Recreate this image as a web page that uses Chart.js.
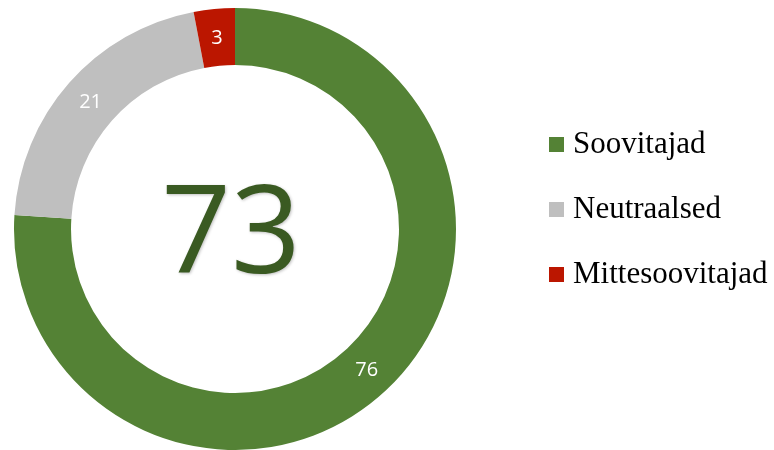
<!DOCTYPE html>
<html>
<head>
<meta charset="utf-8">
<script src="https://cdn.jsdelivr.net/npm/chart.js@4/dist/chart.umd.min.js"></script>
<style>
  html, body { margin: 0; padding: 0; background: #ffffff; }
  #wrap { position: relative; width: 774px; height: 450px; }
  #chart { position: absolute; left: 0; top: 0; }
  #legend { position: absolute; left: 549px; top: 121px; font-family: "Liberation Serif", "Times New Roman", serif; font-size: 31px; color: #000; }
  .item { display: flex; align-items: center; height: 44px; margin-bottom: 21px; }
  .box { width: 15px; height: 15px; margin-right: 9px; margin-top: 3px; }
</style>
</head>
<body>
<div id="wrap">
  <canvas id="chart" width="774" height="450"></canvas>
  <div id="legend"></div>
</div>
<script>
const categories = ["Soovitajad", "Neutraalsed", "Mittesoovitajad"];
const values = [76, 21, 3];
const colors = ["#548235", "#bfbfbf", "#bb1600"];
const centerValue = "73";

// HTML legend built from data
const legendEl = document.getElementById("legend");
categories.forEach((c, i) => {
  const item = document.createElement("div");
  item.className = "item";
  const box = document.createElement("span");
  box.className = "box";
  box.style.background = colors[i];
  const txt = document.createElement("span");
  txt.textContent = c;
  item.appendChild(box);
  item.appendChild(txt);
  legendEl.appendChild(item);
});

const labelsPlugin = {
  id: "arcLabels",
  afterDatasetsDraw(chart) {
    const ctx = chart.ctx;
    const meta = chart.getDatasetMeta(0);
    ctx.save();
    ctx.fillStyle = "#ffffff";
    ctx.font = "20px 'Open Sans', sans-serif";
    ctx.textAlign = "center";
    ctx.textBaseline = "middle";
    meta.data.forEach((arc, i) => {
      const p = arc.tooltipPosition();
      ctx.fillText(String(chart.data.datasets[0].data[i]), p.x, p.y + 1);
    });
    // center value
    const a = meta.data[0];
    const size = 122;
    ctx.font = size + "px 'Open Sans', sans-serif";
    ctx.fillStyle = "#3a5a22";
    ctx.textBaseline = "alphabetic";
    ctx.shadowColor = "rgba(0,0,0,0.25)";
    ctx.shadowBlur = 3;
    ctx.shadowOffsetX = 1;
    ctx.shadowOffsetY = 1;
    ctx.fillText(centerValue, a.x - 4, a.y + size * 0.714 / 2);
    ctx.restore();
  }
};

new Chart(document.getElementById("chart"), {
  type: "doughnut",
  data: {
    labels: categories,
    datasets: [{
      data: values,
      backgroundColor: colors,
      borderWidth: 0
    }]
  },
  options: {
    responsive: false,
    animation: false,
    cutout: "74.2%",
    layout: { padding: { left: 14, top: 8, right: 318, bottom: 0 } },
    plugins: {
      legend: { display: false },
      tooltip: { enabled: false }
    }
  },
  plugins: [labelsPlugin]
});
</script>
</body>
</html>
